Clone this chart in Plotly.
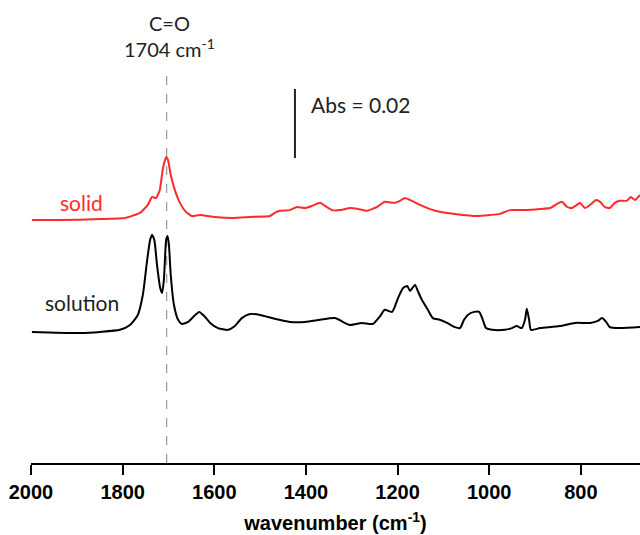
import plotly.graph_objects as go

# ---- data ----
solid_wn = [1998, 1937, 1849, 1795, 1762, 1745, 1736, 1727, 1719, 1712, 1705, 1701, 1695, 1686,
            1675, 1662, 1649, 1631, 1599, 1559, 1522, 1478, 1468, 1457, 1435, 1420, 1402, 1387,
            1369, 1358, 1343, 1326, 1304, 1286, 1267, 1245, 1228, 1206, 1195, 1184, 1169, 1151,
            1129, 1108, 1075, 1027, 998, 977, 955, 922, 889, 867, 852, 841, 830, 820, 809, 802,
            791, 780, 767, 758, 748, 737, 726, 715, 700, 691, 682, 671]
solid_abs = [0.0704, 0.0704, 0.0707, 0.0710, 0.0725, 0.0748, 0.0771, 0.0768, 0.0791, 0.0855,
             0.0887, 0.0878, 0.0835, 0.0791, 0.0754, 0.0728, 0.0716, 0.0719, 0.0713, 0.0710,
             0.0713, 0.0716, 0.0725, 0.0731, 0.0733, 0.0742, 0.0739, 0.0745, 0.0754, 0.0745,
             0.0733, 0.0733, 0.0739, 0.0736, 0.0731, 0.0742, 0.0757, 0.0754, 0.0760, 0.0768,
             0.0760, 0.0748, 0.0736, 0.0728, 0.0722, 0.0716, 0.0719, 0.0722, 0.0733, 0.0733,
             0.0736, 0.0739, 0.0751, 0.0757, 0.0742, 0.0739, 0.0748, 0.0754, 0.0739, 0.0748,
             0.0762, 0.0757, 0.0742, 0.0739, 0.0754, 0.0760, 0.0760, 0.0771, 0.0762, 0.0777]

solution_wn = [1998, 1893, 1849, 1806, 1784, 1767, 1756, 1747, 1740, 1736, 1731, 1725, 1718, 1714,
               1710, 1705, 1702, 1699, 1695, 1688, 1679, 1671, 1657, 1644, 1633, 1622, 1609, 1592,
               1570, 1555, 1540, 1522, 1500, 1468, 1435, 1402, 1369, 1337, 1304, 1278, 1254, 1238,
               1228, 1212, 1199, 1188, 1179, 1173, 1162, 1156, 1147, 1134, 1123, 1108, 1092, 1075,
               1064, 1055, 1047, 1033, 1022, 1014, 1007, 994, 966, 950, 940, 929, 922, 918, 913,
               909, 889, 846, 813, 780, 763, 754, 745, 737, 715, 671]
solution_abs = [0.0380, 0.0377, 0.0380, 0.0386, 0.0400, 0.0429, 0.0487, 0.0583, 0.0647, 0.0661,
                0.0647, 0.0574, 0.0507, 0.0493, 0.0531, 0.0647, 0.0658, 0.0632, 0.0545, 0.0458,
                0.0415, 0.0403, 0.0409, 0.0426, 0.0438, 0.0426, 0.0406, 0.0391, 0.0386, 0.0397,
                0.0420, 0.0432, 0.0429, 0.0418, 0.0409, 0.0409, 0.0415, 0.0420, 0.0400, 0.0406,
                0.0403, 0.0426, 0.0444, 0.0438, 0.0478, 0.0507, 0.0513, 0.0499, 0.0516, 0.0499,
                0.0473, 0.0444, 0.0420, 0.0415, 0.0406, 0.0394, 0.0391, 0.0415, 0.0429, 0.0438,
                0.0438, 0.0415, 0.0391, 0.0386, 0.0386, 0.0391, 0.0397, 0.0391, 0.0415, 0.0447,
                0.0415, 0.0386, 0.0391, 0.0397, 0.0406, 0.0406, 0.0412, 0.0420, 0.0409, 0.0394,
                0.0391, 0.0394]

tick_vals = [2000, 1800, 1600, 1400, 1200, 1000, 800]
tick_text = ["2000", "1800", "1600", "1400", "1200", "1000", "800"]
co_wn = 1704
scale_bar = 0.02

RED = "#ff2a2a"
TXT = "#222222"
ANN_FONT = "Lato"

fig = go.Figure()
fig.add_trace(go.Scatter(x=solid_wn, y=solid_abs, mode="lines",
                         line=dict(color=RED, width=2, shape="spline", smoothing=0.4),
                         showlegend=False, hoverinfo="skip"))
fig.add_trace(go.Scatter(x=solution_wn, y=solution_abs, mode="lines",
                         line=dict(color="black", width=2, shape="spline", smoothing=0.6),
                         showlegend=False, hoverinfo="skip"))

# dashed C=O marker
fig.add_shape(type="line", x0=co_wn, x1=co_wn, y0=0, y1=0.1139, xref="x", yref="y",
              line=dict(color="#999999", width=1.2, dash="dash"), layer="below")
# scale bar
fig.add_shape(type="line", x0=1424, x1=1424, y0=0.0884, y1=0.0884 + scale_bar, xref="x", yref="y",
              line=dict(color="#222222", width=2))

fig.add_annotation(x=1697, y=0.1238, text="C=O<br>1704 cm<sup>-1</sup>", showarrow=False,
                   xanchor="center", yanchor="middle",
                   font=dict(family=ANN_FONT, size=20, color=TXT))
fig.add_annotation(x=1393, y=0.1038, text="Abs = 0.02", showarrow=False,
                   xanchor="left", yanchor="middle",
                   font=dict(family=ANN_FONT, size=21, color=TXT))
fig.add_annotation(x=1889, y=0.0754, text="solid", showarrow=False,
                   xanchor="center", yanchor="middle",
                   font=dict(family=ANN_FONT, size=21, color=RED))
fig.add_annotation(x=1889, y=0.0464, text="solution", showarrow=False,
                   xanchor="center", yanchor="middle",
                   font=dict(family=ANN_FONT, size=21, color=TXT))

fig.update_xaxes(range=[2000, 671], tickmode="array", tickvals=tick_vals, ticktext=tick_text,
                 ticks="outside", ticklen=10, tickwidth=2, tickcolor="black",
                 showline=True, linewidth=2, linecolor="black", showgrid=False, zeroline=False,
                 tickfont=dict(family="Liberation Sans", size=20, color="black", weight="bold"),
                 title=dict(text="<b>wavenumber (cm<sup>-1</sup>)</b>",
                            font=dict(family="Liberation Sans", size=20, color="black"),
                            standoff=14))
fig.update_yaxes(range=[0, 0.1342], visible=False, showgrid=False, zeroline=False)

fig.update_layout(width=640, height=535, margin=dict(l=31, r=0, t=0, b=72),
                  plot_bgcolor="white", paper_bgcolor="white")

fig.write_html("out.html")
